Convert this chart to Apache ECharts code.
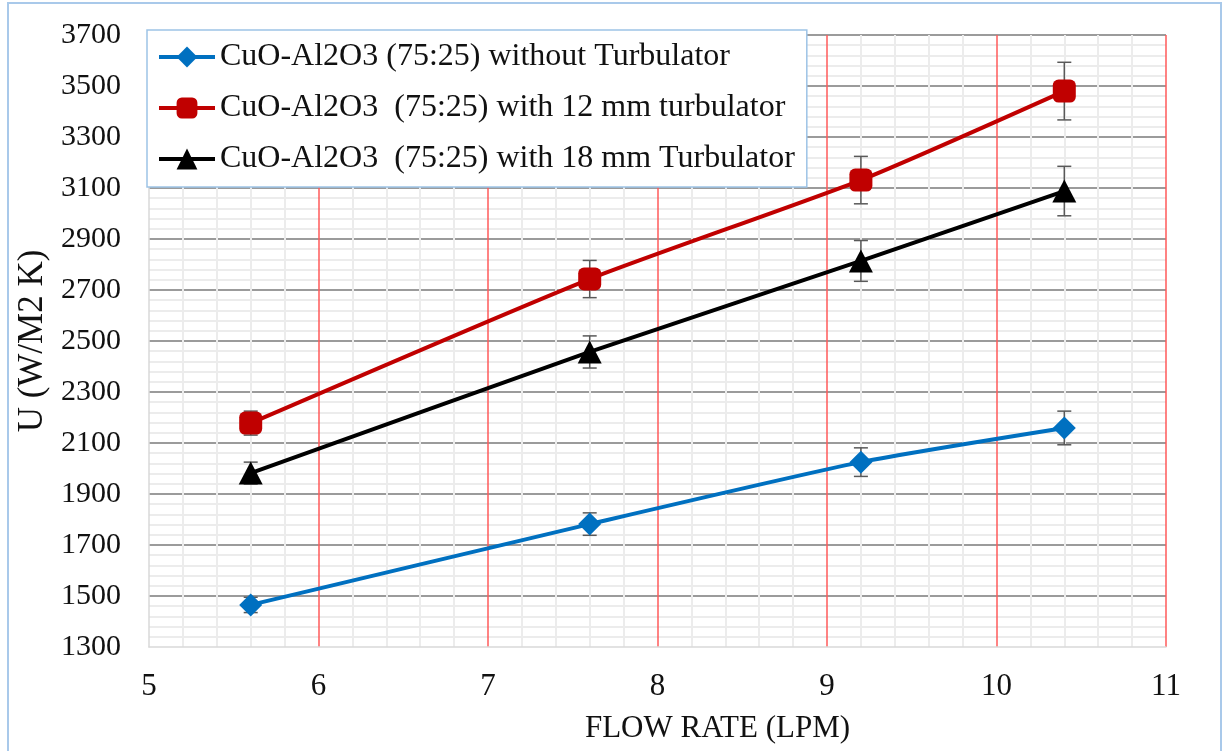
<!DOCTYPE html>
<html>
<head>
<meta charset="utf-8">
<script src="https://cdn.jsdelivr.net/npm/echarts@6/dist/echarts.min.js"></script>
<style>
  html, body { margin: 0; padding: 0; background: #fff; }
  #chart { width: 1226px; height: 751px; }
</style>
</head>
<body>
<div id="chart"></div>
<script>
// flow rate (LPM) on x, overall heat transfer coefficient U on y
const flowRate = [5.6, 7.6, 9.2, 10.4];
const uWithout = [1465, 1782, 2025, 2159];
const u12mm = [2178, 2743, 3131, 3480];
const u18mm = [1982, 2457, 2814, 3088];

// +/- error bar sizes
const errWithout = [30, 44, 56, 66];
const err12mm = [47, 73, 93, 113];
const err18mm = [43, 63, 80, 97];

const xTicks = [5, 6, 7, 8, 9, 10, 11];
const yTicks = [1300, 1500, 1700, 1900, 2100, 2300, 2500, 2700, 2900, 3100, 3300, 3500, 3700];

const seriesNames = [
  "CuO-Al2O3 (75:25) without Turbulator",
  "CuO-Al2O3  (75:25) with 12 mm turbulator",
  "CuO-Al2O3  (75:25) with 18 mm Turbulator",
];

const FONT = "'Liberation Serif', 'Times New Roman', serif";

const pairs = (ys) => flowRate.map((x, i) => [x, ys[i]]);
const errPairs = (ys, es) => flowRate.map((x, i) => [x, ys[i], es[i]]);

function renderErrorBar(params, api) {
  const x = api.value(0);
  const y = api.value(1);
  const e = api.value(2);
  const top = api.coord([x, y + e]);
  const bot = api.coord([x, y - e]);
  const cap = 7;
  const style = { stroke: "#595959", lineWidth: 1.5 };
  return {
    type: "group",
    children: [
      { type: "line", shape: { x1: top[0], y1: top[1], x2: bot[0], y2: bot[1] }, style },
      { type: "line", shape: { x1: top[0] - cap, y1: top[1], x2: top[0] + cap, y2: top[1] }, style },
      { type: "line", shape: { x1: bot[0] - cap, y1: bot[1], x2: bot[0] + cap, y2: bot[1] }, style },
    ],
  };
}

function lineSeries(name, ys, color, symbol, size) {
  return {
    name,
    type: "line",
    data: pairs(ys),
    symbol,
    symbolSize: size,
    smooth: 0.2,
    z: 3,
    lineStyle: { color, width: 4 },
    itemStyle: { color },
    animation: false,
  };
}

function errSeries(ys, es) {
  return {
    type: "custom",
    renderItem: renderErrorBar,
    data: errPairs(ys, es),
    encode: { x: 0, y: 1 },
    z: 2,
    silent: true,
    animation: false,
  };
}

const chart = echarts.init(document.getElementById("chart"));

chart.setOption({
  backgroundColor: "#fff",
  textStyle: { fontFamily: FONT },
  graphic: [
    {
      type: "rect",
      shape: { x: 8, y: 3, width: 1213, height: 770 },
      style: { fill: "none", stroke: "#a9c9ea", lineWidth: 2 },
      z: 100,
    },
  ],
  grid: { left: 149, right: 60, top: 35, bottom: 104, outerBoundsMode: "none", containLabel: false },
  legend: {
    data: seriesNames,
    orient: "vertical",
    left: 147,
    top: 30,
    padding: [10, 12, 11, 10],
    itemGap: 17,
    itemWidth: 56,
    itemHeight: 26,
    backgroundColor: "#fff",
    borderColor: "#9dc3e6",
    borderWidth: 1.5,
    lineStyle: { width: 4 },
    textStyle: { fontFamily: FONT, fontSize: 32, color: "#111", lineHeight: 34 },
  },
  xAxis: {
    type: "value",
    min: xTicks[0],
    max: xTicks[xTicks.length - 1],
    interval: 1,
    name: "FLOW RATE (LPM)",
    nameLocation: "middle",
    nameGap: 66,
    nameTextStyle: { fontFamily: FONT, fontSize: 31, color: "#111", padding: [0, 0, 0, 120] },
    axisLine: { show: true, lineStyle: { color: "#d9d9d9", width: 1.5 } },
    axisTick: { show: false },
    axisLabel: { fontFamily: FONT, fontSize: 31, color: "#111", margin: 24 },
    splitLine: { show: true, showMinLine: false, lineStyle: { color: "#ff5a5a", width: 1.5 } },
    minorTick: { show: false, splitNumber: 5 },
    minorSplitLine: { show: true, lineStyle: { color: "#ececec", width: 2 } },
  },
  yAxis: {
    type: "value",
    min: yTicks[0],
    max: yTicks[yTicks.length - 1],
    interval: 200,
    name: "U (W/M2 K)",
    nameLocation: "middle",
    nameGap: 99,
    nameTextStyle: { fontFamily: FONT, fontSize: 35, color: "#111" },
    axisLine: { show: true, lineStyle: { color: "#d9d9d9", width: 1.5 } },
    axisTick: { show: false },
    axisLabel: { fontFamily: FONT, fontSize: 30, color: "#111", margin: 28, formatter: (v) => String(v) },
    splitLine: { show: true, showMinLine: false, lineStyle: { color: "#7a7a7a", width: 1.5 } },
    minorTick: { show: false, splitNumber: 5 },
    minorSplitLine: { show: true, lineStyle: { color: "#ececec", width: 2 } },
  },
  series: [
    errSeries(uWithout, errWithout),
    errSeries(u12mm, err12mm),
    errSeries(u18mm, err18mm),
    lineSeries(seriesNames[0], uWithout, "#0070c0", "diamond", 23),
    lineSeries(seriesNames[1], u12mm, "#c00000", "roundRect", 23),
    lineSeries(seriesNames[2], u18mm, "#000000", "triangle", [24, 23]),
  ],
});
</script>
</body>
</html>
